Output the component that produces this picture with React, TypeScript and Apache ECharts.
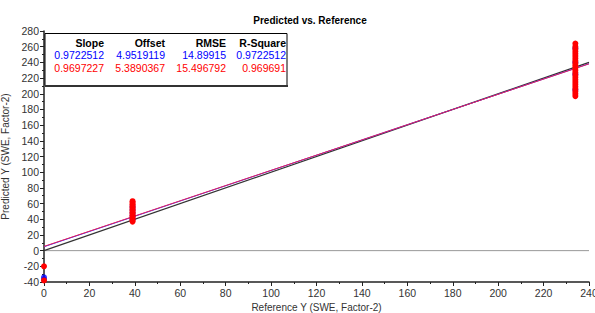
import React, { useEffect, useRef } from "react";
import * as echarts from "echarts";

const title = "Predicted vs. Reference";
const xName = "Reference Y (SWE, Factor-2)";
const yName = "Predicted Y (SWE, Factor-2)";

const tableHeaders = ["Slope", "Offset", "RMSE", "R-Square"];
const blueStats = ["0.9722512", "4.9519119", "14.89915", "0.9722512"];
const redStats = ["0.9697227", "5.3890367", "15.496792", "0.969691"];

const blueSlope = 0.9722512;
const blueOffset = 4.9519119;
const redSlope = 0.9697227;
const redOffset = 5.3890367;

const refLevels = [0, 39, 234];

const blueX0 = [-34, -37];
const blueX39 = [40, 44, 48, 52, 56];
const blueX234 = [205, 225, 240, 258];

const redX0 = [-20, -38];
const redX39 = [37, 39, 41, 43, 45, 47, 49, 51, 53, 55, 57, 59, 61, 63];
const redX234 = [197, 200, 203, 206, 209, 212, 215, 218, 221, 224, 227, 230, 233, 236, 239, 242, 245, 248, 251, 254, 257, 260, 264];

const xMin = 0;
const xMax = 240;

export default function App() {
  const ref = useRef<HTMLDivElement>(null);
  useEffect(() => {
    document.body.style.margin = "0";
    const chart = echarts.init(ref.current!, null, { renderer: "svg" });
    const pts = (x: number, ys: number[]) => ys.map((y) => [x, y]);
    const blueData = [
      ...pts(refLevels[0], blueX0),
      ...pts(refLevels[1], blueX39),
      ...pts(refLevels[2], blueX234),
    ];
    const redData = [
      ...pts(refLevels[0], redX0),
      ...pts(refLevels[1], redX39),
      ...pts(refLevels[2], redX234),
    ];
    const font = "Liberation Sans, Arial, sans-serif";
    const colRight = [104, 165, 226, 286];
    const rowY = [43, 55, 68];
    const tableTexts: any[] = [];
    tableHeaders.forEach((t, i) =>
      tableTexts.push({
        type: "text",
        x: colRight[i],
        y: rowY[0],
        style: { text: t, fill: "#000", font: `bold 10.5px ${font}`, textAlign: "right", textVerticalAlign: "middle" },
      })
    );
    blueStats.forEach((t, i) =>
      tableTexts.push({
        type: "text",
        x: colRight[i],
        y: rowY[1],
        style: { text: t, fill: "#0000ff", font: `10.5px ${font}`, textAlign: "right", textVerticalAlign: "middle" },
      })
    );
    redStats.forEach((t, i) =>
      tableTexts.push({
        type: "text",
        x: colRight[i],
        y: rowY[2],
        style: { text: t, fill: "#ff0000", font: `10.5px ${font}`, textAlign: "right", textVerticalAlign: "middle" },
      })
    );

    chart.setOption({
      animation: false,
      backgroundColor: "#fff",
      title: {
        text: title,
        left: 305,
        top: 10,
        textAlign: "center",
        textStyle: { fontSize: 10, fontWeight: "bold", color: "#000", fontFamily: font },
      },
      grid: { left: 44, right: 6, top: 31, bottom: 31, outerBoundsMode: "none", containLabel: false },
      xAxis: {
        type: "value",
        min: xMin,
        max: xMax,
        interval: 20,
        name: xName,
        nameLocation: "middle",
        nameGap: 17,
        nameTextStyle: { fontSize: 10, color: "#333", fontFamily: font },
        axisLine: { show: true, onZero: false, lineStyle: { color: "#222", width: 1.5 } },
        axisTick: { show: true, length: 4, lineStyle: { color: "#222" } },
        minorTick: { show: true, splitNumber: 2, length: 2, lineStyle: { color: "#222" } },
        axisLabel: { fontSize: 10.5, color: "#333", margin: 5, fontFamily: font },
        splitLine: { show: false },
      },
      yAxis: {
        type: "value",
        min: -40,
        max: 280,
        interval: 20,
        name: yName,
        nameLocation: "middle",
        nameGap: 27,
        nameTextStyle: { fontSize: 10, color: "#333", fontFamily: font },
        axisLine: { show: true, onZero: false, lineStyle: { color: "#222", width: 1.5 } },
        axisTick: { show: true, length: 4, lineStyle: { color: "#222" } },
        minorTick: { show: true, splitNumber: 2, length: 2, lineStyle: { color: "#222" } },
        axisLabel: { fontSize: 10.5, color: "#333", margin: 5, fontFamily: font },
        splitLine: { show: false },
      },
      graphic: [
        {
          type: "rect",
          shape: { x: 45, y: 33.5, width: 242, height: 52 },
          style: { fill: "#fff", stroke: "#000", lineWidth: 1 },
          z: 100,
        },
        {
          type: "line",
          shape: { x1: 45, y1: 86, x2: 288, y2: 86 },
          style: { stroke: "#333", lineWidth: 2 },
          z: 100,
        },
        ...tableTexts.map((t) => ({ ...t, z: 101 })),
      ],
      series: [
        {
          type: "line",
          data: [[xMin, 0], [xMax, 0]],
          symbol: "none",
          lineStyle: { color: "#999", width: 1 },
          z: 1,
        },
        {
          type: "line",
          data: [[xMin, xMin], [xMax, xMax]],
          symbol: "none",
          lineStyle: { color: "#333", width: 1.2 },
          z: 2,
        },
        {
          type: "line",
          data: [[xMin, blueSlope * xMin + blueOffset], [xMax, blueSlope * xMax + blueOffset]],
          symbol: "none",
          lineStyle: { color: "#3030ff", width: 1 },
          z: 3,
        },
        {
          type: "line",
          data: [[xMin, redSlope * xMin + redOffset], [xMax, redSlope * xMax + redOffset]],
          symbol: "none",
          lineStyle: { color: "#e8205a", width: 1 },
          z: 4,
        },
        {
          type: "scatter",
          data: blueData,
          symbolSize: 6,
          itemStyle: { color: "#0000ff" },
          z: 5,
        },
        {
          type: "scatter",
          data: redData,
          symbolSize: 6,
          itemStyle: { color: "#ff0000", opacity: 1 },
          z: 6,
        },
      ],
    });
    return () => chart.dispose();
  }, []);
  return <div ref={ref} style={{ width: 595, height: 313 }} />;
}
